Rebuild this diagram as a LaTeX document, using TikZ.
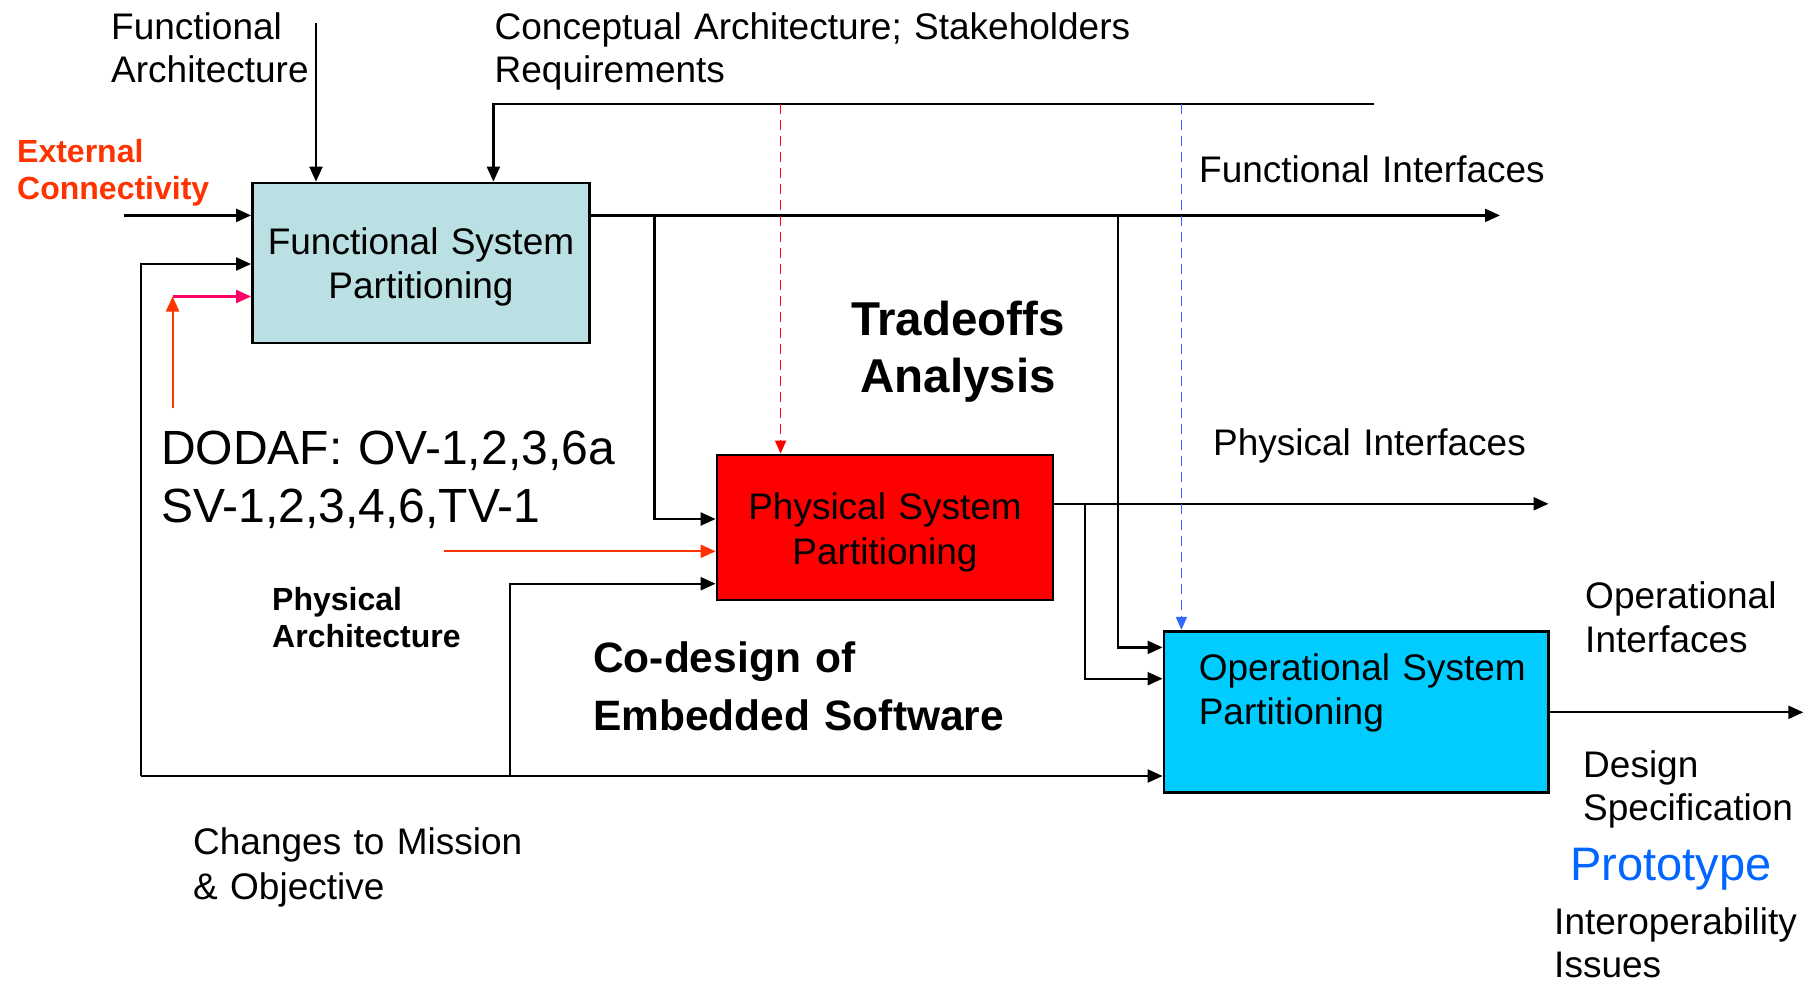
\documentclass[tikz,border=0pt]{standalone}
\usepackage{fontspec}
\setmainfont{Liberation Sans}
\usetikzlibrary{arrows.meta}

\definecolor{fspfill}{RGB}{186,224,227}
\definecolor{pspfill}{RGB}{255,0,0}
\definecolor{ospfill}{RGB}{0,204,255}
\definecolor{extred}{RGB}{255,51,0}
\definecolor{linkpink}{RGB}{255,0,102}
\definecolor{dashred}{RGB}{255,0,0}
\definecolor{dashblue}{RGB}{51,102,255}
\definecolor{protoblue}{RGB}{0,102,255}

\begin{document}
\begin{tikzpicture}[x=1pt,y=-1pt,
  box/.style={draw=black, line width=2.8pt, inner sep=0pt},
  flow/.style={draw=black, line width=2.2pt, -{Triangle[length=15pt,width=13pt]}},
  cflow/.style={line width=2.2pt, -{Triangle[length=15pt,width=13pt]}},
  feed/.style={dash pattern=on 10pt off 6pt, line width=1.7pt, -{Triangle[length=13pt,width=11pt]}},
  lbl/.style={anchor=base west, inner sep=0pt, align=left, text width=700pt},
  ctr/.style={anchor=base, inner sep=0pt, align=center, text width=400pt},
  reg/.style={font=\fontsize{37}{44}\selectfont}
]
\useasboundingbox (0,0) rectangle (1816,982);

% process boxes
\node[box, fill=fspfill, minimum width=337pt, minimum height=160pt] (fsp) at (421,263) {};
\node[box, fill=pspfill, minimum width=336pt, minimum height=145pt] (psp) at (885,527.5) {};
\node[box, fill=ospfill, minimum width=384.5pt, minimum height=161pt] (osp) at (1356.25,711.7) {};

% box captions
\node[ctr, reg] (fsptext) at (421,254) {Functional System\\Partitioning};
\node[ctr, font=\fontsize{37}{45}\selectfont] (psptext) at (885,519) {Physical System\\Partitioning};
\node[lbl, reg] (osptext) at (1198.6,680) {Operational System\\Partitioning};

% inputs from above
\coordinate (fa) at (316,23);
\draw[flow] (fa) -- (fa |- fsp.north);

\coordinate (cr) at (1373.6,104);
\coordinate (crin) at (493.4,104);
\draw[flow] (cr) -- (crin) -- (crin |- fsp.north);

% external connectivity
\coordinate (ext) at (124,215.4);
\draw[flow] (ext) -- (ext -| fsp.west);

% functional interfaces and their branches
\coordinate (fiout) at (1500,215.4);
\draw[flow] (fsp.east |- ext) -- (fiout);
\coordinate (b1) at (654.4,215.4);
\coordinate (b1in) at (654.4,519);
\draw[flow] (b1) -- (b1in) -- (b1in -| psp.west);
\coordinate (b2) at (1117.7,215.4);
\coordinate (b2in) at (1117.7,647.4);
\draw[flow] (b2) -- (b2in) -- (b2in -| osp.west);

% mission changes loop
\coordinate (loopl) at (141.3,776);
\coordinate (loopt) at (141.3,264);
\draw[flow] (loopl) -- (loopl -| osp.west);
\draw[flow] (loopl) -- (loopt) -- (loopt -| fsp.west);
\coordinate (pab) at (509.6,776);
\coordinate (pat) at (509.6,583.7);
\draw[flow] (pab) -- (pat) -- (pat -| psp.west);

% DODAF views
\coordinate (dod) at (172.6,408);
\coordinate (dodt) at (172.6,296.5);
\draw[cflow, linkpink] (dodt) -- (dodt -| fsp.west);
\draw[cflow, extred] (dod) -- (dodt);
\coordinate (pa) at (443.6,551.3);
\draw[cflow, extred] (pa) -- (pa -| psp.west);

% physical interfaces
\coordinate (piout) at (1548.5,503.8);
\draw[flow] (psp.east |- piout) -- (piout);
\coordinate (b3) at (1085.2,503.8);
\coordinate (b3in) at (1085.2,678.7);
\draw[flow] (b3) -- (b3in) -- (b3in -| osp.west);

% operational interfaces
\coordinate (oiout) at (1803.3,712.3);
\draw[flow] (osp.east |- oiout) -- (oiout);

% requirement feeds
\coordinate (redtap) at (780.6,104);
\draw[feed, dashred] (redtap) -- (redtap |- psp.north);
\coordinate (bluetap) at (1181.4,104);
\draw[feed, dashblue] (bluetap) -- (bluetap |- osp.north);

% labels
\node[lbl, font=\fontsize{37}{43}\selectfont] (tfa) at (111,40) {Functional\\Architecture};
\node[lbl, font=\fontsize{37}{43}\selectfont] (tcr) at (494.5,40) {Conceptual Architecture; Stakeholders\\Requirements};
\node[lbl, font=\bfseries\fontsize{32}{37}\selectfont, text=extred] (tec) at (17,162) {External\\Connectivity};
\node[lbl, reg] (tfi) at (1199,182) {Functional Interfaces};
\node[ctr, font=\bfseries\fontsize{47.5}{57}\selectfont] (tta) at (958,335) {Tradeoffs\\Analysis};
\node[lbl, font=\fontsize{48}{58}\selectfont] (tdod) at (161,464) {DODAF: OV-1,2,3,6a\\SV-1,2,3,4,6,TV-1};
\node[lbl, font=\bfseries\fontsize{32}{37}\selectfont] (tpa) at (272,610) {Physical\\Architecture};
\node[lbl, font=\bfseries\fontsize{42.5}{58}\selectfont] (tcd) at (593,672) {Co-design of\\Embedded Software};
\node[lbl, font=\fontsize{37}{45}\selectfont] (tcm) at (193,854) {Changes to Mission\\\& Objective};
\node[lbl, reg] (tpi) at (1213,455) {Physical Interfaces};
\node[lbl, reg] (toi) at (1585,608) {Operational\\Interfaces};
\node[lbl, font=\fontsize{37}{43}\selectfont] (tds) at (1583,777) {Design\\Specification};
\node[lbl, font=\fontsize{47}{56}\selectfont, text=protoblue] (tpr) at (1570,880) {Prototype};
\node[lbl, font=\fontsize{37}{43}\selectfont] (tii) at (1554,934) {Interoperability\\Issues};
\end{tikzpicture}
\end{document}
